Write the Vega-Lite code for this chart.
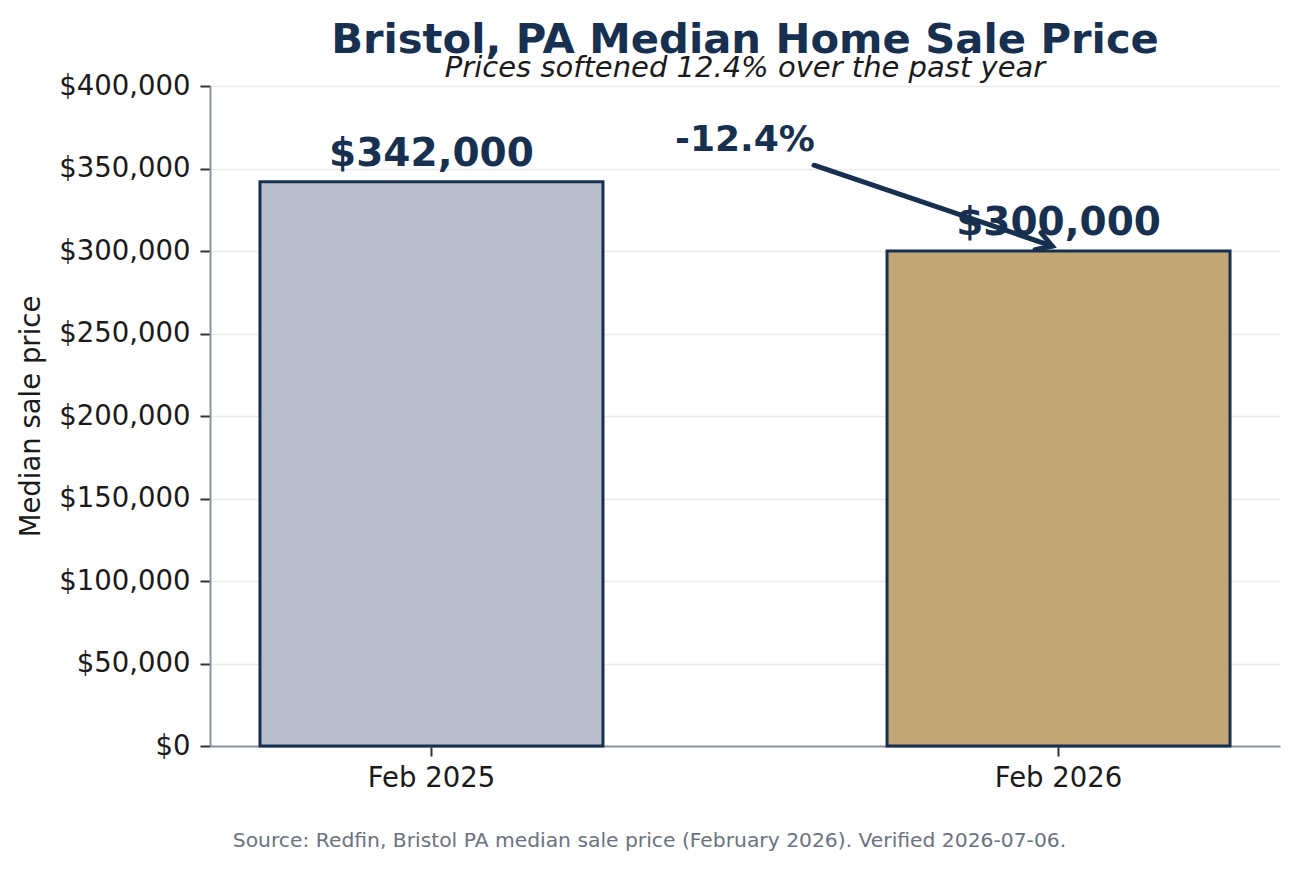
{
  "$schema": "https://vega.github.io/schema/vega-lite/v6.json",
  "width": 1070,
  "height": 660,
  "autosize": {"type": "none"},
  "padding": {"left": 210, "top": 86, "right": 20, "bottom": 123},
  "background": "white",
  "config": {
    "font": "DejaVu Sans",
    "view": {"stroke": null},
    "axis": {
      "labelFont": "DejaVu Sans",
      "titleFont": "DejaVu Sans"
    }
  },
  "title": {
    "text": "Bristol, PA Median Home Sale Price",
    "subtitle": "Prices softened 12.4% over the past year",
    "anchor": "middle",
    "font": "DejaVu Sans",
    "fontSize": 41.7,
    "fontWeight": "bold",
    "color": "#17304f",
    "subtitleFont": "DejaVu Sans",
    "subtitleFontSize": 29,
    "subtitleFontStyle": "italic",
    "subtitleColor": "#1a1a1a",
    "subtitlePadding": -8,
    "offset": -11
  },
  "datasets": {
    "prices": [
      {"period": "Feb 2025", "price": 342000},
      {"period": "Feb 2026", "price": 300000}
    ],
    "arrow": [
      {"pos": 0.61, "price": 352000},
      {"pos": 0.99, "price": 303000}
    ],
    "arrowTip": [
      {"pos": 0.99, "price": 303000}
    ],
    "change": [
      {"pos": 0.5, "price": 367000, "label": "-12.4%"}
    ]
  },
  "layer": [
    {
      "data": {"name": "prices"},
      "layer": [
        {
          "mark": {"type": "bar", "stroke": "#17304f", "strokeWidth": 3},
          "encoding": {
            "x": {
              "field": "period",
              "type": "nominal",
              "scale": {"paddingInner": 0.453, "paddingOuter": 0.0797},
              "axis": {
                "labelAngle": 0,
                "labelFontSize": 27.5,
                "labelColor": "#1a1a1a",
                "labelPadding": 8,
                "tickSize": 10,
                "tickWidth": 2,
                "tickColor": "#333333",
                "domainColor": "#8b949e",
                "domainWidth": 2,
                "title": "Source: Redfin, Bristol PA median sale price (February 2026). Verified 2026-07-06.",
                "titleFontSize": 20.3,
                "titleFontWeight": "normal",
                "titleColor": "#6b7280",
                "titleX": 439,
                "titleY": 100,
                "titleAnchor": "middle",
                "titleAlign": "center",
                "titleBaseline": "alphabetic"
              }
            },
            "y": {
              "field": "price",
              "type": "quantitative",
              "scale": {"domain": [0, 400000], "nice": false},
              "axis": {
                "values": [0, 50000, 100000, 150000, 200000, 250000, 300000, 350000, 400000],
                "format": "$,.0f",
                "labelFontSize": 27.5,
                "labelColor": "#1a1a1a",
                "labelPadding": 10,
                "tickSize": 10,
                "tickWidth": 2,
                "tickColor": "#333333",
                "domainColor": "#8b949e",
                "domainWidth": 2,
                "grid": true,
                "gridColor": "#ebebeb",
                "gridWidth": 1.5,
                "title": "Median sale price",
                "titleFontSize": 27.5,
                "titleFontWeight": "normal",
                "titleColor": "#1a1a1a",
                "titlePadding": 13
              }
            },
            "color": {
              "field": "period",
              "type": "nominal",
              "scale": {"range": ["#b8bfcb", "#c2a676"]},
              "legend": null
            }
          }
        },
        {
          "mark": {
            "type": "text",
            "fontSize": 39,
            "fontWeight": "bold",
            "color": "#17304f",
            "baseline": "alphabetic",
            "dy": -16
          },
          "encoding": {
            "x": {"field": "period", "type": "nominal"},
            "y": {"field": "price", "type": "quantitative"},
            "text": {"field": "price", "type": "quantitative", "format": "$,.0f"}
          }
        }
      ]
    },
    {
      "layer": [
        {
          "data": {"name": "arrow"},
          "mark": {"type": "line", "color": "#17304f", "strokeWidth": 5, "strokeCap": "round"},
          "encoding": {
            "x": {"field": "pos", "type": "quantitative", "scale": {"domain": [-0.3533, 1.3533], "nice": false, "zero": false}, "axis": null},
            "y": {"field": "price", "type": "quantitative"}
          }
        },
        {
          "data": {"name": "arrowTip"},
          "mark": {
            "type": "point",
            "shape": "M-1,-0.6L0,0L-1,0.6",
            "filled": false,
            "stroke": "#17304f",
            "strokeWidth": 5,
            "strokeCap": "round",
            "strokeJoin": "miter",
            "opacity": 1,
            "size": 900,
            "angle": 19
          },
          "encoding": {
            "x": {"field": "pos", "type": "quantitative"},
            "y": {"field": "price", "type": "quantitative"}
          }
        },
        {
          "data": {"name": "change"},
          "mark": {
            "type": "text",
            "fontSize": 36,
            "fontWeight": "bold",
            "color": "#17304f",
            "baseline": "middle",
            "align": "center"
          },
          "encoding": {
            "x": {"field": "pos", "type": "quantitative"},
            "y": {"field": "price", "type": "quantitative"},
            "text": {"field": "label"}
          }
        }
      ]
    }
  ],
  "resolve": {"scale": {"x": "independent"}}
}
